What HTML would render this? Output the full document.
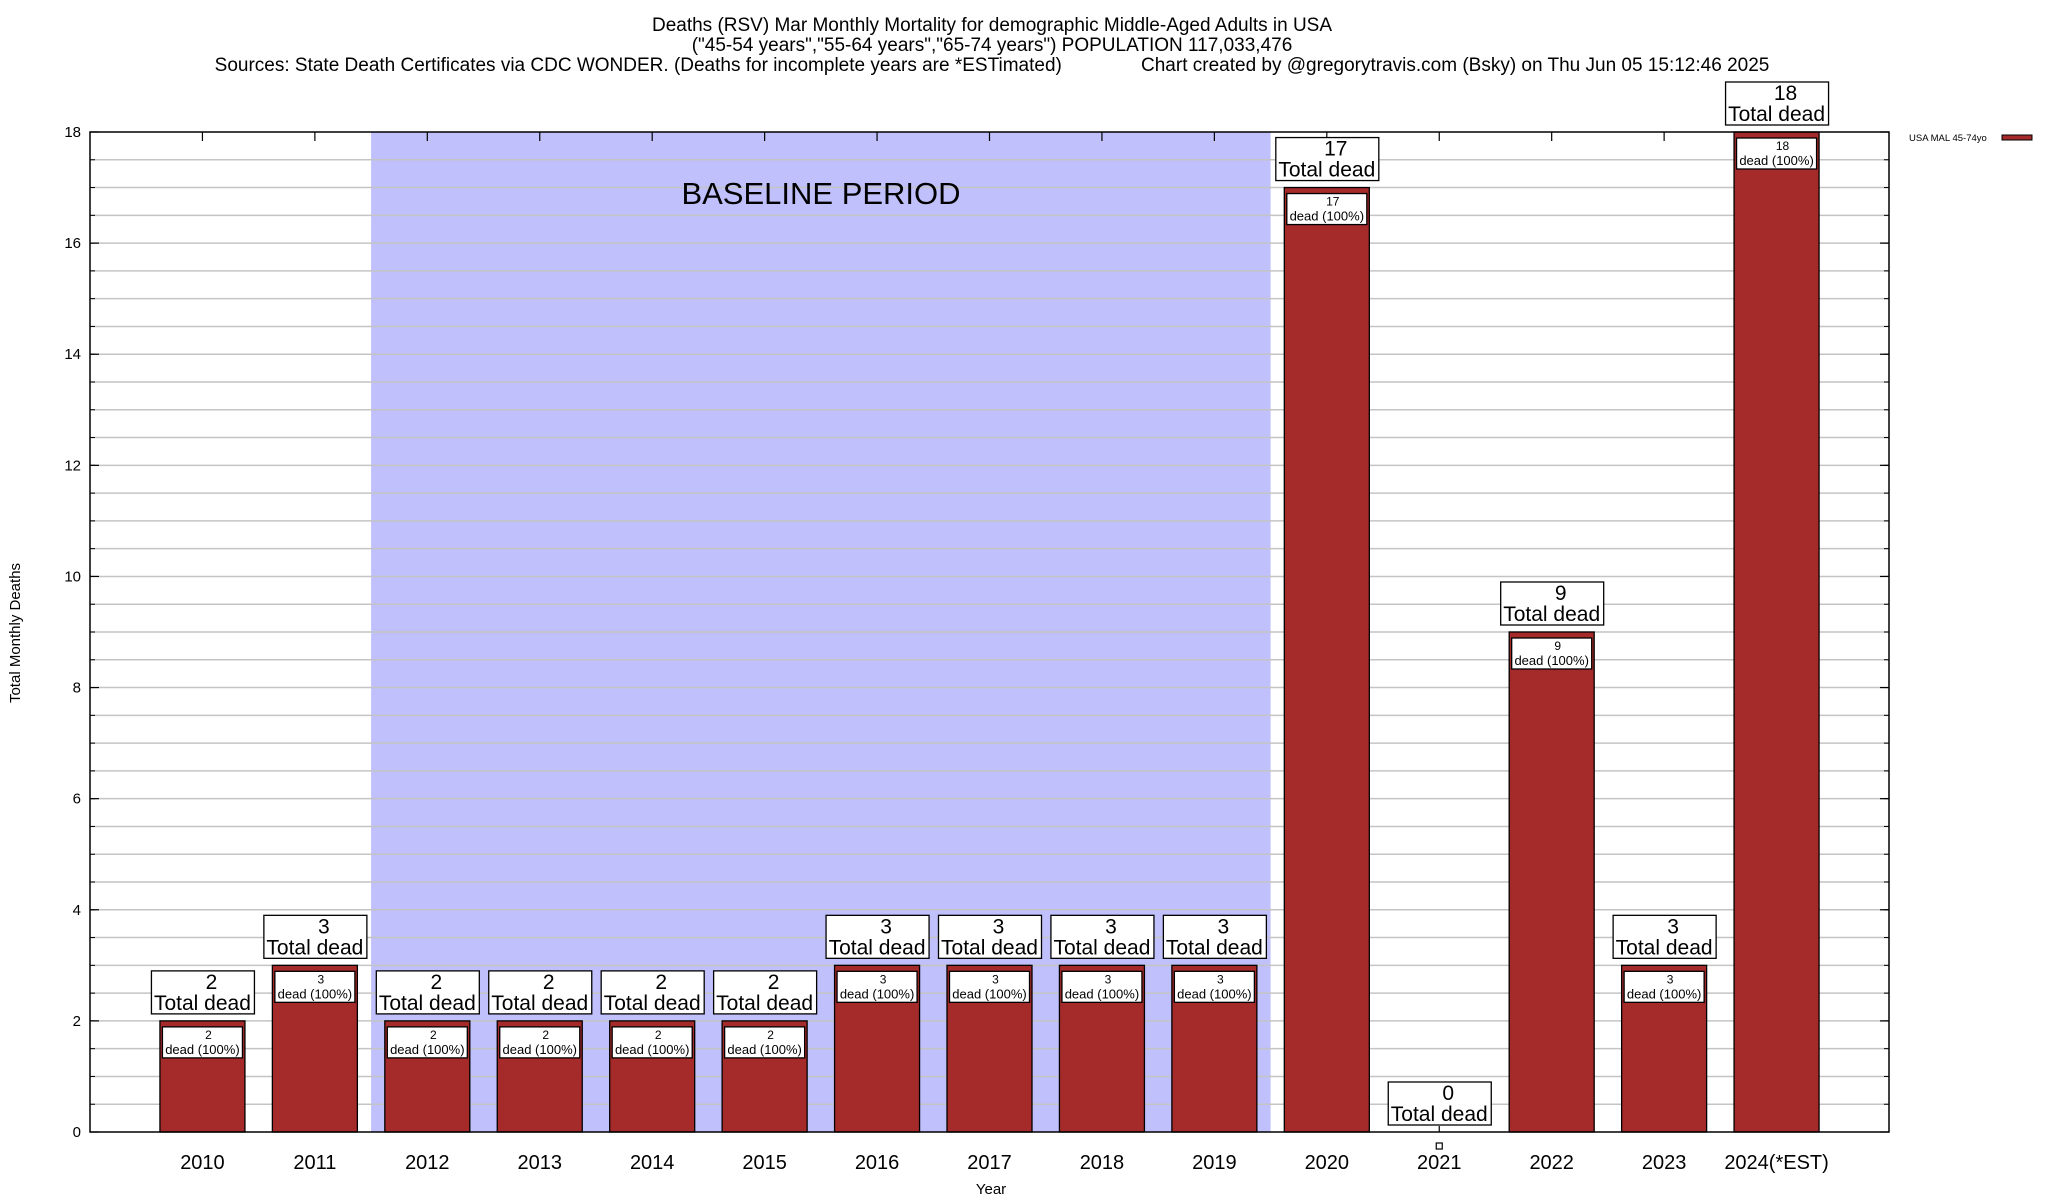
<!DOCTYPE html>
<html><head><meta charset="utf-8"><style>
html,body{margin:0;padding:0;background:#fff;}
svg{display:block;font-family:"Liberation Sans",Arial,sans-serif;}
</style></head><body>
<svg id="chart" width="2048" height="1200" viewBox="0 0 2048 1200" xmlns="http://www.w3.org/2000/svg">
<rect width="2048" height="1200" fill="#fff"/>
<g font-size="19" text-anchor="middle" fill="#000">
<text x="992" y="31">Deaths (RSV) Mar Monthly Mortality for demographic Middle-Aged Adults in USA</text>
<text x="992" y="51">("45-54 years","55-64 years","65-74 years") POPULATION 117,033,476</text>
<text x="992" y="71" xml:space="preserve">Sources: State Death Certificates via CDC WONDER. (Deaths for incomplete years are *ESTimated)               Chart created by @gregorytravis.com (Bsky) on Thu Jun 05 15:12:46 2025</text>
</g>
<g id="plot"></g>
</svg>
<script>
const categories = ["2010","2011","2012","2013","2014","2015","2016","2017","2018","2019","2020","2021","2022","2023","2024(*EST)"];
const deaths = [2,3,2,2,2,2,3,3,3,3,17,0,9,3,18];
const yTicks = [0,2,4,6,8,10,12,14,16,18];
const baselineRange = [1.5, 9.5];

const NS = "http://www.w3.org/2000/svg";
const L = 90, R = 1889, T = 132, B = 1132;
const yMax = 18;
const xs = i => L + (i + 1) * (R - L) / 16;
const ys = v => B - v * (B - T) / yMax;
const g = document.getElementById('plot');
function mk(tag, attrs, parent) {
  const e = document.createElementNS(NS, tag);
  for (const k in attrs) e.setAttribute(k, attrs[k]);
  (parent || g).appendChild(e);
  return e;
}

// baseline shading
const shade = mk('rect', {x: xs(baselineRange[0]), y: T, width: xs(baselineRange[1]) - xs(baselineRange[0]), height: B - T, fill: '#c0c0fc'});



// gridlines every 0.5
for (let v = 0.5; v < yMax; v += 0.5) {
  const gl = mk('line', {x1: L, x2: R, y1: ys(v), y2: ys(v), stroke: '#c4c4c4', 'stroke-width': 1.5});
  
  
  const t1 = mk('line', {x1: L, x2: L + 5, y1: ys(v), y2: ys(v), stroke: '#000', 'stroke-width': 1});
  
  
  const t2 = mk('line', {x1: R - 5, x2: R, y1: ys(v), y2: ys(v), stroke: '#000', 'stroke-width': 1});
  
  
}

const bl = mk('text', {x: 821, y: 204, 'font-size': 31, 'text-anchor': 'middle'});
bl.textContent = 'BASELINE PERIOD';



// y tick labels
yTicks.forEach(v => {
  const t = mk('text', {x: L - 9, y: ys(v) + 5, 'font-size': 15, 'text-anchor': 'end'});
  t.textContent = v;
  
  
  const tk = mk('line', {x1: L, x2: L + 9, y1: ys(v), y2: ys(v), stroke: '#000', 'stroke-width': 1.2});
  
  
  const tk2 = mk('line', {x1: R - 9, x2: R, y1: ys(v), y2: ys(v), stroke: '#000', 'stroke-width': 1.2});
  
  
});

// bars
const bw = 85;
categories.forEach((c, i) => {
  const cx = xs(i), v = deaths[i];
  const top = ys(v);
  const tt = mk('line', {x1: cx, x2: cx, y1: T, y2: T + 9, stroke: '#000', 'stroke-width': 1.2});
  
  
  if (v > 0) {
    const bar = mk('rect', {x: cx - bw / 2, y: top, width: bw, height: B - top, fill: '#a52a2a', stroke: '#000', 'stroke-width': 1.3});
    
    
    const ib = mk('rect', {x: cx - 40, y: top + 6, width: 80, height: 31, fill: '#fff', stroke: '#000', 'stroke-width': 1.3});
    
    
    const it1 = mk('text', {x: cx + 6, y: top + 18, 'font-size': 12, 'text-anchor': 'middle'});
    it1.textContent = v;
    
    
    const it2 = mk('text', {x: cx, y: top + 33, 'font-size': 13, 'text-anchor': 'middle'});
    it2.textContent = 'dead (100%)';
    
    
  } else {
    const m = mk('rect', {x: cx - 3, y: B + 11, width: 6, height: 6, fill: '#fff', stroke: '#000', 'stroke-width': 1.2});
    
    
    const ln = mk('line', {x1: cx, x2: cx, y1: B - 6, y2: B, stroke: '#000', 'stroke-width': 1.2});
    
    
  }
  const bb = top - 7;
  const box = mk('rect', {x: cx - 51, y: bb - 43, width: 103, height: 43, fill: '#fff', stroke: '#000', 'stroke-width': 1.3});
  
  
  const n = mk('text', {x: cx + 9, y: bb - 25, 'font-size': 21, 'text-anchor': 'middle'});
  n.textContent = v;
  
  
  const td = mk('text', {x: cx, y: bb - 4, 'font-size': 21, 'text-anchor': 'middle'});
  td.textContent = 'Total dead';
  
  
  const xl = mk('text', {x: cx, y: B + 37, 'font-size': 20, 'text-anchor': 'middle'});
  xl.textContent = c;
  
  
});

// frame
const fr = mk('rect', {x: L, y: T, width: R - L, height: B - T, fill: 'none', stroke: '#000', 'stroke-width': 1.5});



const xt = mk('text', {x: 991, y: 1194, 'font-size': 15, 'text-anchor': 'middle'});
xt.textContent = 'Year';


const yt = mk('text', {x: 0, y: 0, 'font-size': 15, 'text-anchor': 'middle', transform: 'translate(20,633) rotate(-90)'});
yt.textContent = 'Total Monthly Deaths';



// legend
const lt = mk('text', {x: 1909, y: 141, 'font-size': 9.5});
lt.textContent = 'USA MAL 45-74yo';


const ls = mk('rect', {x: 2002, y: 135, width: 30, height: 5, fill: '#a52a2a', stroke: '#000', 'stroke-width': 1});


</script>
</body></html>
